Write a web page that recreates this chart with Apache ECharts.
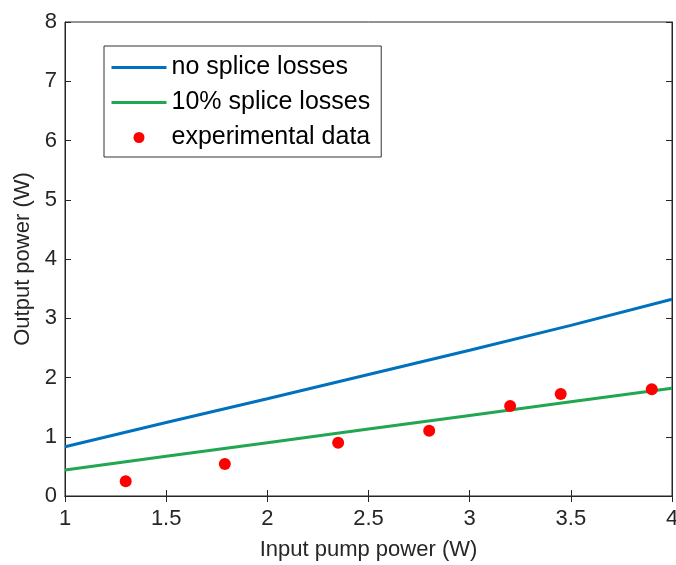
<!DOCTYPE html>
<html>
<head>
<meta charset="utf-8">
<script src="https://cdn.jsdelivr.net/npm/echarts@6/dist/echarts.min.js"></script>
<style>
  html, body { margin: 0; padding: 0; background: #fff; }
  #main { width: 676px; height: 565px; }
</style>
</head>
<body>
<div id="main"></div>
<script>
// model curves
var pumpX = [1, 1.5, 2, 2.5, 3, 3.5, 4];
var noLoss = [0.83, 1.24, 1.64, 2.05, 2.46, 2.88, 3.32];
var tenLoss = [0.44, 0.67, 0.90, 1.13, 1.36, 1.59, 1.82];

// measured points
var expX = [1.3, 1.79, 2.35, 2.8, 3.2, 3.45, 3.9];
var expY = [0.25, 0.54, 0.90, 1.10, 1.52, 1.72, 1.80];

var names = ['no splice losses', '10% splice losses', 'experimental data'];

function pairs(xs, ys) {
    return xs.map(function (x, i) { return [x, ys[i]]; });
}

var font = 'Liberation Sans, Arial, Helvetica, sans-serif';
var axisCol = '#262626';

var myChart = echarts.init(document.getElementById('main'));

var option = {
    animation: false,
    backgroundColor: '#fff',
    grid: {
        left: 65, right: 4, top: 22, bottom: 69,
        outerBoundsMode: 'none',
        show: true, borderColor: axisCol, borderWidth: 1
    },
    legend: {
        left: 104, top: 46,
        orient: 'vertical',
        padding: [9, 11, 7, 6],
        itemWidth: 55, itemHeight: 11,
        itemGap: 10,
        borderColor: '#333', borderWidth: 1,
        backgroundColor: '#fff',
        textStyle: { fontFamily: font, fontSize: 25, color: '#000' },
        data: [
            { name: names[0], itemStyle: { opacity: 0 }, lineStyle: { width: 3 } },
            { name: names[1], itemStyle: { opacity: 0 }, lineStyle: { width: 3 } },
            { name: names[2], icon: 'circle' }
        ]
    },
    xAxis: [{
        type: 'value', min: 1, max: 4, interval: 0.5,
        name: 'Input pump power (W)',
        nameLocation: 'middle', nameGap: 43,
        nameTextStyle: { fontFamily: font, fontSize: 22, color: axisCol },
        axisLine: { show: true, onZero: false, lineStyle: { color: axisCol } },
        axisTick: { inside: true, length: 6, lineStyle: { color: axisCol } },
        axisLabel: { fontFamily: font, fontSize: 22, color: axisCol, margin: 12 },
        splitLine: { show: false }
    }, {
        type: 'value', min: 1, max: 4, interval: 0.5, position: 'top',
        axisLine: { show: true, lineStyle: { color: axisCol } },
        axisTick: { inside: true, length: 6, lineStyle: { color: axisCol } },
        axisLabel: { show: false },
        splitLine: { show: false }
    }],
    yAxis: [{
        type: 'value', min: 0, max: 8, interval: 1,
        name: 'Output power (W)',
        nameLocation: 'middle', nameGap: 31,
        nameTextStyle: { fontFamily: font, fontSize: 22, color: axisCol },
        axisLine: { show: true, onZero: false, lineStyle: { color: axisCol } },
        axisTick: { inside: true, length: 6, lineStyle: { color: axisCol } },
        axisLabel: { fontFamily: font, fontSize: 22, color: axisCol, margin: 8 },
        splitLine: { show: false }
    }, {
        type: 'value', min: 0, max: 8, interval: 1, position: 'right',
        axisLine: { show: true, lineStyle: { color: axisCol } },
        axisTick: { inside: true, length: 6, lineStyle: { color: axisCol } },
        axisLabel: { show: false },
        splitLine: { show: false }
    }],
    series: [{
        name: names[0],
        type: 'line',
        data: pairs(pumpX, noLoss),
        symbol: 'none',
        lineStyle: { color: '#0072bd', width: 3 },
        itemStyle: { color: '#0072bd' }
    }, {
        name: names[1],
        type: 'line',
        data: pairs(pumpX, tenLoss),
        symbol: 'none',
        lineStyle: { color: '#21a651', width: 3 },
        itemStyle: { color: '#21a651' }
    }, {
        name: names[2],
        type: 'scatter',
        data: pairs(expX, expY),
        symbol: 'circle',
        symbolSize: 12,
        itemStyle: { color: '#ff0000', opacity: 1 },
        z: 5
    }]
};

myChart.setOption(option);
</script>
</body>
</html>
